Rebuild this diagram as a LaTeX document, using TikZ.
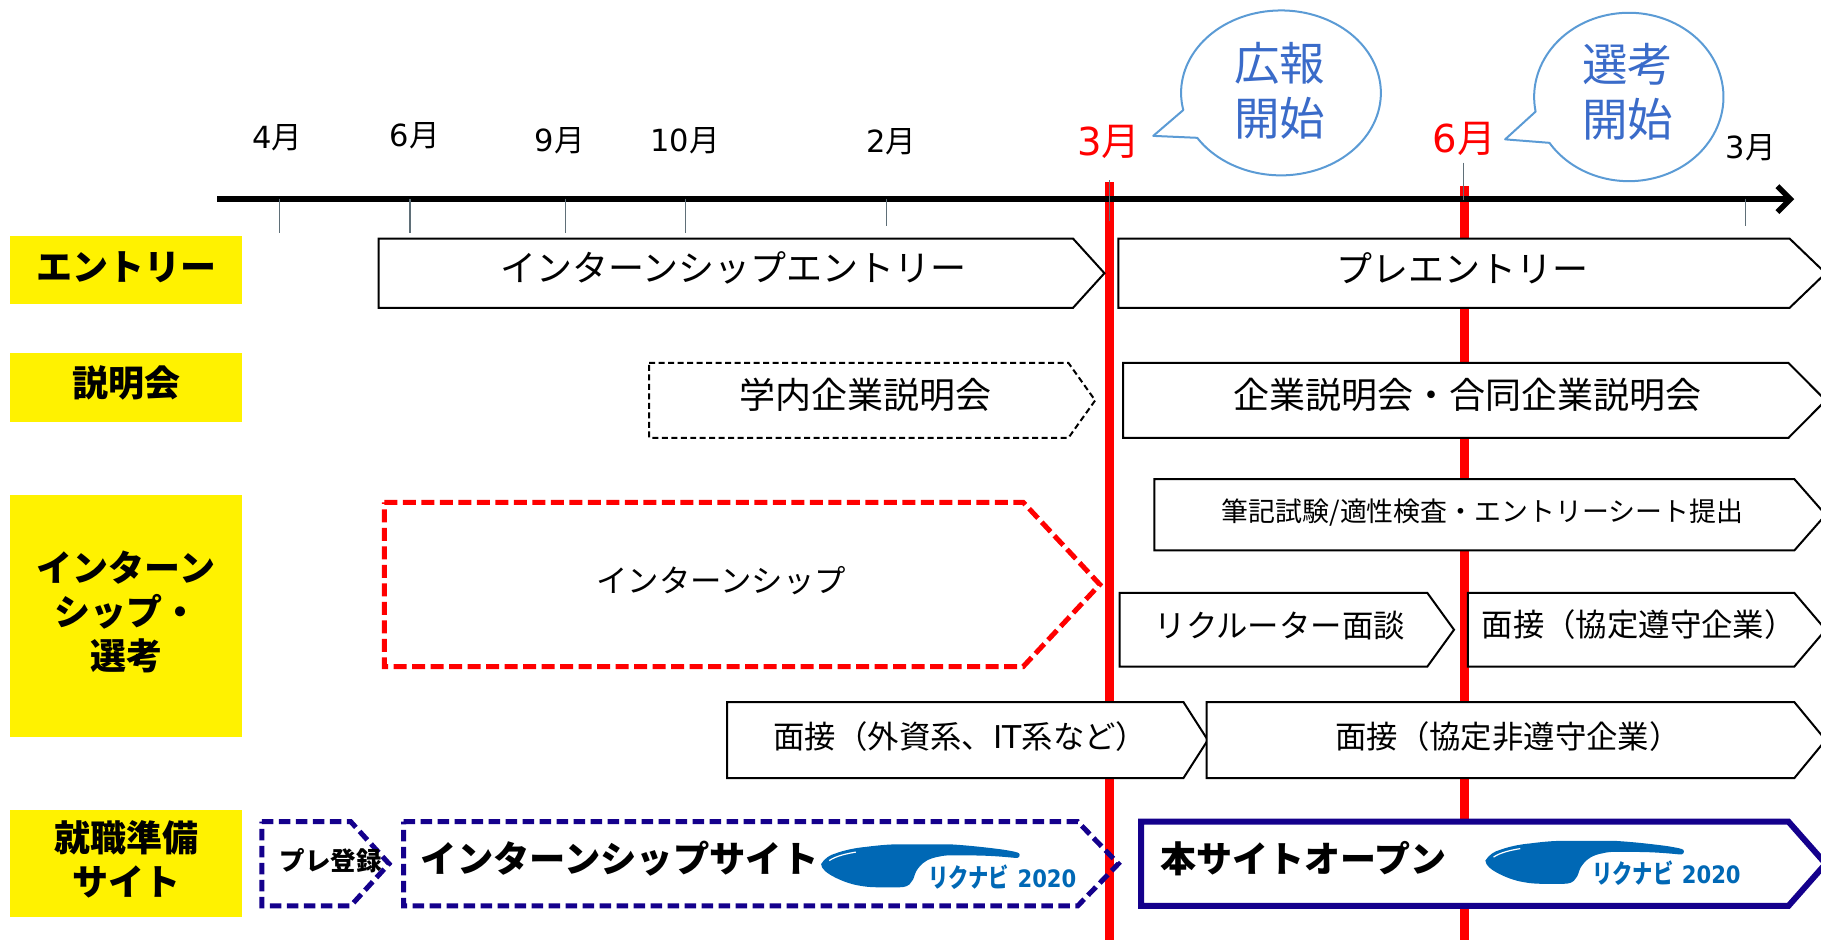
\documentclass[tikz,border=0pt]{standalone}
\usepackage{fontspec}
\setmainfont{Noto Sans CJK JP}
\newfontfamily\digitfont{DejaVu Sans}
\usetikzlibrary{arrows.meta}
\definecolor{ybox}{HTML}{FFF200}
\definecolor{navy}{HTML}{14008C}
\definecolor{callline}{HTML}{5B9BD5}
\definecolor{calltext}{HTML}{3A6BC9}
\definecolor{tickc}{HTML}{5F6F78}
\definecolor{logoblue}{HTML}{0068B5}
\newcommand\fsz[1]{\fontsize{#1pt}{1.22\dimexpr#1pt\relax}\selectfont}
\newcommand\dg[1]{{\digitfont #1}}
% \plate[style]{x1}{xh}{x2}{y1}{y2}
\newcommand\plate[6][plainbox]{\draw[#1] (#2,#5) -- (#3,#5) -- (#4,{(#5+#6)/2}) -- (#3,#6) -- (#2,#6) -- cycle;}
\newcommand\logomark[2]{%
 \begin{scope}[shift={(#1,#2)}]
  \fill[logoblue] (0,17) .. controls (3,12) and (8,9) .. (12,8) .. controls (20,5) and (30,3) .. (38,2.3)
   .. controls (48,1) and (58,0) .. (67,0) -- (111,0) .. controls (128,1) and (145,3) .. (157,4.6)
   .. controls (165,6) and (172,7) .. (171,9) .. controls (171,12) and (168,12) .. (166,11.6)
   .. controls (150,10) and (138,9.5) .. (126,9.6) .. controls (115,9.5) and (108,9) .. (102,10.5)
   .. controls (96,11.5) and (93,13) .. (91,14) .. controls (86,17) and (84,20) .. (82,23)
   .. controls (80,27) and (80,30) .. (78,32) .. controls (76,36) and (72,37) .. (67.5,37)
   -- (50,37) .. controls (42,37) and (38,36.5) .. (32.5,35.5) .. controls (24,34) and (17,31) .. (12,28.5)
   .. controls (5,25) and (0,21) .. cycle;
  \draw[white,line width=1.2pt] (7,14) .. controls (13,10) and (22,8) .. (30,6.7);
  \node[font=\bfseries\fsz{26},text=logoblue,xscale=.78,inner sep=0] (#1logoa) at (127,28) {リクナビ};
  \node[font=\digitfont\bfseries\fsz{24},text=logoblue,xscale=.88,inner sep=0] (#1logob) at (194.5,29.5) {2020};
 \end{scope}}
\tikzset{x=1.1614pt,y=-1.1614pt,
 ylabel/.style={font=\bfseries\fsz{36},align=center,inner sep=0},
 plainbox/.style={draw=black,fill=white,line width=2pt,line join=miter},
 dashbox/.style={draw=black,fill=white,line width=2pt,dash pattern=on 6pt off 3.5pt},
 redbox/.style={draw=red,fill=white,line width=5pt,dash pattern=on 13pt off 5.5pt},
 navybox/.style={draw=navy,line width=5pt,dash pattern=on 11.5pt off 5.5pt},
 navysolid/.style={draw=navy,fill=white,line width=6pt},
 boxtext/.style={font=\fsz{36},inner sep=0},
 midtext/.style={font=\fsz{31.4},inner sep=0},
 monthlab/.style={font=\fsz{30.5},inner sep=0},
 redmonth/.style={font=\fsz{38.5},text=red,inner sep=0},
 calltxt/.style={font=\fsz{45.5},text=calltext,align=center,inner sep=0},
 callout/.style={draw=callline,fill=white,line width=2pt,line join=round},
 tick/.style={draw=tickc,line width=1.2pt},
 redline/.style={draw=red,line width=9.5pt},
}
\begin{document}
\begin{tikzpicture}
\useasboundingbox (0,0) rectangle (1568,809.4);
% yellow label boxes
\fill[ybox] (9,203) rectangle (208,262);
\fill[ybox] (9,304) rectangle (208,363);
\fill[ybox] (9,426) rectangle (208,635);
\fill[ybox] (9,697.5) rectangle (208,790);
\node[ylabel] (la) at (108.5,230) {エントリー};
\node[ylabel] (lb) at (108.5,330) {説明会};
\node[ylabel,text width=200pt] (lc) at (108.5,527) {インターン\\シップ・\\選考};
\node[ylabel,text width=200pt] (ld) at (108.5,740) {就職準備\\サイト};
% red lines
\coordinate (r1t) at (955.5,157); \coordinate (r1b) at (955.5,809.4);
\coordinate (r2t) at (1261,160); \coordinate (r2b) at (1261,809.4);
\draw[redline] (r1t) -- (r1b);
\draw[redline] (r2t) -- (r2b);
% axis
\coordinate (axl) at (187,171.5); \coordinate (axr) at (1545,171.5);
\draw[line width=6pt,-{Straight Barb[length=13pt,width=26pt,line width=5.5pt]}] (axl) -- (axr);
\foreach \n/\x/\a/\b in {a/241/171/201,b/353/171/201,c/487/171/201,d/590/171/201,e/763/171/195,f/955/155/190,g/1260/140/172,h/1503/171/195}{
  \coordinate (t\n1) at (\x,\a); \coordinate (t\n2) at (\x,\b);
  \draw[tick] (t\n1) -- (t\n2);
}
% months
\node[monthlab] (m1) at (238.5,119) {\dg{4}月};
\node[monthlab] (m2) at (357,117) {\dg{6}月};
\node[monthlab] (m3) at (482,121) {\dg{9}月};
\node[monthlab] (m4) at (590,121) {\dg{10}月};
\node[monthlab] (m5) at (767.5,122) {\dg{2}月};
\node[redmonth] (m6) at (954.5,122) {\dg{3}月};
\node[redmonth] (m7) at (1261,120) {\dg{6}月};
\node[monthlab] (m8) at (1507.5,127) {\dg{3}月};
% callouts
\coordinate (c1) at (1103,80); \coordinate (c1tip) at (993,117);
\path[callout,draw] ([shift={(168:86 and 71)}]c1) arc[start angle=168,end angle=507,x radius=86,y radius=71] -- (c1tip) -- cycle;
\node[calltxt] (ct1) at (1102,78) {広報\\開始};
\coordinate (c2) at (1402.5,83.5); \coordinate (c2tip) at (1296,120);
\path[callout,draw] ([shift={(170:81.5 and 72.5)}]c2) arc[start angle=170,end angle=507,x radius=81.5,y radius=72.5] -- (c2tip) -- cycle;
\node[calltxt] (ct2) at (1401.5,79) {選考\\開始};
% boxes
\plate{326}{924}{951}{205.5}{265}
\node[boxtext] (b1) at (631.5,231) {インターンシップエントリー};
\plate{963}{1541}{1572}{205.5}{265}
\node[boxtext] (b2) at (1259,231) {プレエントリー};
\plate[dashbox]{559}{920}{943}{312.5}{377}
\node[boxtext] (b3) at (745.5,340) {学内企業説明会};
\plate{967}{1540}{1572}{312.5}{377}
\node[boxtext] (b4) at (1263.5,340) {企業説明会・合同企業説明会};
\plate{994}{1545}{1572}{412.5}{474}
\node[font=\fsz{26.9},inner sep=0] (b5) at (1276.5,441.5) {筆記試験/適性検査・エントリーシート提出};
\plate[redbox]{331}{881}{947}{432.5}{574}
\node[midtext] (b6) at (621,500) {インターンシップ};
\plate{964}{1229}{1252}{510.5}{574}
\node[midtext] (b7) at (1102,539) {リクルーター面談};
\plate{1264}{1545}{1572}{510.5}{574}
\node[midtext] (b8) at (1411,538) {面接（協定遵守企業）};
\plate{626}{1019}{1040}{604.5}{670}
\node[midtext] (b9) at (827,634) {面接（外資系、\dg{IT}系など）};
\plate{1039}{1545}{1572}{604.5}{670}
\node[midtext] (b10) at (1298.5,634) {面接（協定非遵守企業）};
\plate[navybox]{225.5}{302}{335}{707.5}{780}
\node[font=\bfseries\fsz{25.5},inner sep=0] (b11) at (285,741) {プレ登録};
\plate[navybox]{347.5}{928}{963}{707.5}{780}
\node[font=\bfseries\fsz{36.3},inner sep=0] (b12) at (533.5,739) {インターンシップサイト};
\plate[navysolid]{982.5}{1540}{1572}{707.5}{780}
\node[font=\bfseries\fsz{36},inner sep=0] (b13) at (1122.5,739) {本サイトオープン};
% logos
\logomark{707}{727}
\logomark{1279}{724}
\end{tikzpicture}
\end{document}
